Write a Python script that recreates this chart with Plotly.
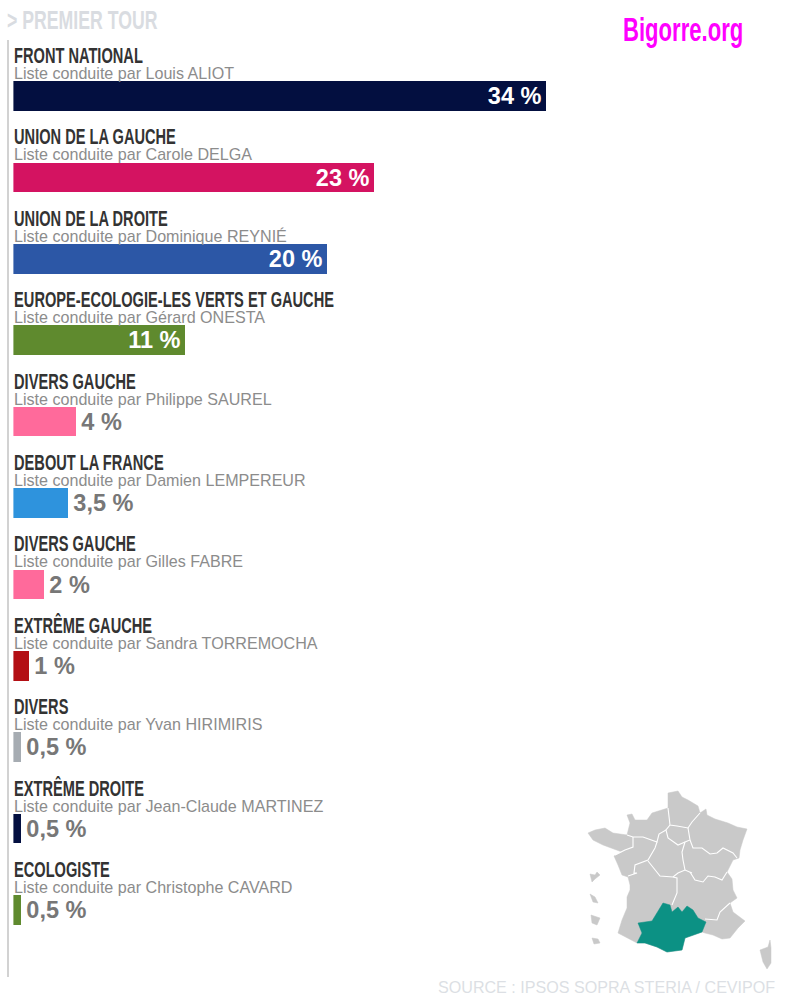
import plotly.graph_objects as go

# resultats du premier tour
partis = ['FRONT NATIONAL', 'UNION DE LA GAUCHE', 'UNION DE LA DROITE',
          'EUROPE-ECOLOGIE-LES VERTS ET GAUCHE', 'DIVERS GAUCHE', 'DEBOUT LA FRANCE',
          'DIVERS GAUCHE ', 'EXTRÊME GAUCHE', 'DIVERS', 'EXTRÊME DROITE', 'ECOLOGISTE']
candidats = ['Louis ALIOT', 'Carole DELGA', 'Dominique REYNIÉ', 'Gérard ONESTA',
             'Philippe SAUREL', 'Damien LEMPEREUR', 'Gilles FABRE', 'Sandra TORREMOCHA',
             'Yvan HIRIMIRIS', 'Jean-Claude MARTINEZ', 'Christophe CAVARD']
valeurs = [34, 23, 20, 11, 4, 3.5, 2, 1, 0.5, 0.5, 0.5]
etiquettes = ['34 %', '23 %', '20 %', '11 %', '4 %', '3,5 %', '2 %', '1 %', '0,5 %', '0,5 %', '0,5 %']
couleurs = ['#030f40', '#d41361', '#2c57a6', '#5f8a2e', '#ff6a9b', '#2e93dd',
            '#ff6a9b', '#b30f14', '#a6acb2', '#030f40', '#5f8a2e']

# carte de France dessinee a la main, en pixels de l'image (fond decoratif)
contour = [(668,793),(678,791),(682,797),(688,800),(698,806),(700,813),(706,809),(707,815),(715,819),
           (728,823),(737,827),(747,829),(743,840),(740,850),(739,858),(733,860),(728,870),(727,872),
           (732,879),(733,890),(737,898),(730,903),(733,912),(745,921),(738,928),(730,938),(722,939),
           (713,935),(705,933),(702,932),(685,938),(682,950),(667,952),(657,947),(645,943),(637,943),
           (618,933),(622,920),(627,908),(627,897),(630,890),(630,885),(628,877),(622,875),(618,865),
           (614,856),(622,852),(603,845),(593,840),(588,833),(595,830),(605,828),(613,833),(627,835),
           (630,823),(627,815),(632,814),(635,820),(647,820),(652,813),(668,808)]
frontieres = [
    [(668,808),(670,825),(677,826),(688,828),(692,822),(700,813)],
    [(670,825),(666,830),(668,838),(675,843),(678,845),(685,842),(690,840),(688,828)],
    [(690,840),(693,848),(702,848),(710,854),(717,853),(723,848),(733,853),(737,858)],
    [(685,842),(682,852),(683,860),(685,870)],
    [(627,835),(633,837),(643,837),(652,840),(657,842),(659,834),(666,830)],
    [(633,837),(633,847),(625,850),(615,855)],
    [(657,842),(655,848),(648,860),(640,863),(635,865),(634,873),(637,873),(628,876)],
    [(648,861),(655,870),(660,876),(673,877),(678,873),(685,870),(692,873)],
    [(690,872),(695,880),(703,882),(708,876),(715,877),(722,880),(727,872)],
    [(673,877),(677,878),(677,893),(672,905)],
    [(705,919),(717,920),(720,912),(730,903)],
]
occitanie = [(663,903),(670,905),(672,912),(678,907),(682,912),(687,906),(693,910),(698,918),(706,922),
             (702,932),(685,938),(682,950),(667,952),(657,947),(645,943),(637,943),(642,933),(638,923),
             (652,921)]
iles = [
    [(590,874),(595,875),(597,872),(600,875),(595,879),(592,882)],
    [(590,894),(595,897),(598,903),(593,902)],
    [(591,915),(600,918),(597,925),(592,923)],
    [(592,938),(598,939),(600,943),(594,944)],
    [(770,940),(771,948),(771,963),(767,969),(763,962),(760,950),(768,947)],
]

SANS = 'Liberation Sans, Arial, sans-serif'
GRIS_CARTE = '#c9c9c9'
TEAL = '#0c9184'

fig = go.Figure()

# hair spaces pour caler les etiquettes
positions = ['inside' if v >= 10 else 'outside' for v in valeurs]
couleurs_txt = ['white' if v >= 10 else '#777777' for v in valeurs]
textes = [e + '\u200a' if v >= 10 else '\u200a' + e for e, v in zip(etiquettes, valeurs)]

fig.add_trace(go.Bar(
    x=valeurs, y=partis, orientation='h', width=0.363,
    marker=dict(color=couleurs, line=dict(width=0)),
    text=textes, textposition=positions, insidetextanchor='end', textangle=0,
    constraintext='none', cliponaxis=False,
    textfont=dict(family=SANS, size=23.5, weight='bold', color=couleurs_txt),
    hoverinfo='skip', showlegend=False,
))


def add_carte(pts, fill=None, line_color='white', line_width=1.1):
    if fill is not None:
        pts = pts + [pts[0]]
    fig.add_trace(go.Scatter(
        x=[p[0] for p in pts], y=[p[1] for p in pts],
        xaxis='x2', yaxis='y2', mode='lines',
        fill='toself' if fill else 'none', fillcolor=fill,
        line=dict(color=line_color, width=line_width), hoverinfo='skip', showlegend=False,
    ))


add_carte(contour, fill=GRIS_CARTE, line_color=GRIS_CARTE, line_width=0.5)
for f in frontieres:
    add_carte(f)
for ile in iles:
    add_carte(ile, fill=GRIS_CARTE, line_color=GRIS_CARTE, line_width=0.5)
add_carte(occitanie, fill=TEAL, line_color=TEAL, line_width=0.5)

# libelles au dessus de chaque barre
for parti, candidat in zip(partis, candidats):
    fig.add_annotation(x=0, y=parti, xref='x', yref='y', xanchor='left', yanchor='middle',
                       text=parti.strip(), showarrow=False, xshift=-1, yshift=40,
                       font=dict(family=SANS, size=21.5, weight='bold', color='#333333'))
    fig.add_annotation(x=0, y=parti, xref='x', yref='y', xanchor='left', yanchor='middle',
                       text=f'Liste conduite par {candidat}', showarrow=False, xshift=-1, yshift=23,
                       font=dict(family=SANS, size=16.1, color='#8c8c8c'))

fig.add_annotation(x=7/790, y=1-20/1000, xref='paper', yref='paper', xanchor='left', yanchor='middle',
                   text='&gt; PREMIER TOUR', showarrow=False, xshift=-2,
                   font=dict(family=SANS, size=26, weight='bold', color='#d9dce1'))
fig.add_annotation(x=623/790, y=1-30/1000, xref='paper', yref='paper', xanchor='left', yanchor='middle',
                   text='Bigorre.org', showarrow=False, xshift=-2,
                   font=dict(family=SANS, size=32.5, weight='bold', color='#ff00ff'))
fig.add_annotation(x=775/790, y=1-987/1000, xref='paper', yref='paper', xanchor='right', yanchor='middle',
                   text='SOURCE : IPSOS SOPRA STERIA / CEVIPOF', showarrow=False, xshift=2,
                   font=dict(family=SANS, size=16.1, color='#dcdfe4'))

fig.add_shape(type='line', xref='paper', yref='paper', x0=8/790, x1=8/790, y0=1-977/1000, y1=1-40/1000,
              line=dict(color='#d2d2d2', width=2))

fig.update_layout(
    width=790, height=1000, margin=dict(l=0, r=0, t=0, b=0),
    paper_bgcolor='white', plot_bgcolor='rgba(0,0,0,0)', bargap=0,
    xaxis=dict(domain=[13.4/790, 1], range=[0, 776.6/15.68], visible=False, fixedrange=True),
    yaxis=dict(domain=[0, 1], type='category', categoryorder='array', categoryarray=partis,
               range=[11.105, -1.179], visible=False, fixedrange=True),
    xaxis2=dict(domain=[570/790, 1], range=[570, 790], visible=False, anchor='y2', fixedrange=True),
    yaxis2=dict(domain=[0, 0.22], range=[1000, 780], visible=False, anchor='x2', fixedrange=True),
)

# pas de police condensee installee : on resserre les titres en gras autour de leur bord gauche
SERRE = """
document.body.style.margin = '0';
document.querySelectorAll('.annotation-text').forEach(function (el) {
  if (parseInt(getComputedStyle(el).fontWeight) < 600) return;
  var k = 0.68, x0 = el.getBBox().x;
  el.setAttribute('transform', 'translate(' + x0 * (1 - k) + ',0) scale(' + k + ',1)');
});
"""

fig.write_html("out.html", post_script=SERRE, config={'displayModeBar': False})
